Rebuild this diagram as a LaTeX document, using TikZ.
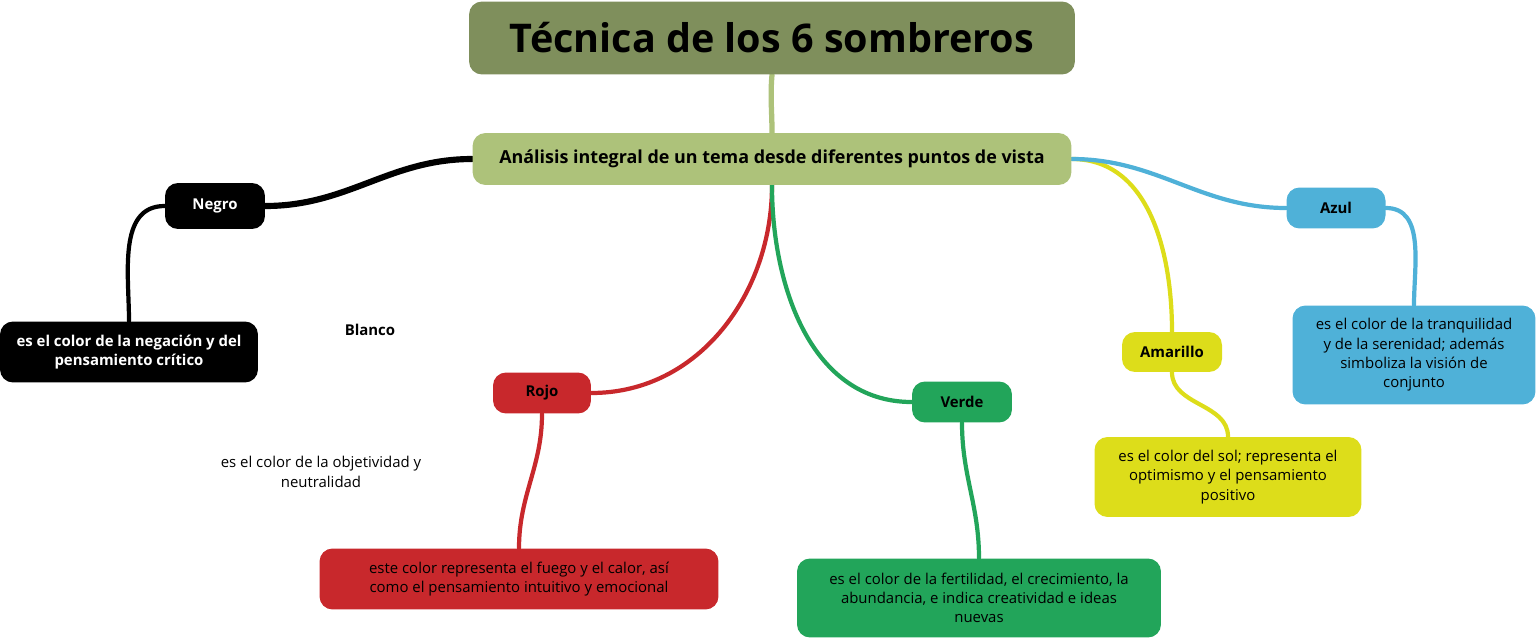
\documentclass[tikz,border=0pt]{standalone}
\usepackage{fontspec}
\setmainfont{Open Sans}
\usetikzlibrary{backgrounds}
\definecolor{olive}{HTML}{7F8F5C}
\definecolor{lolive}{HTML}{ADC27A}
\definecolor{cred}{HTML}{C8282C}
\definecolor{cgreen}{HTML}{22A55A}
\definecolor{cyellow}{HTML}{DDDD1A}
\definecolor{cblue}{HTML}{4FB1D8}
\tikzset{
 box/.style={rounded corners=0.26cm, inner sep=0pt, align=center, font=\fontsize{8.5}{11}\selectfont\bfseries},
 plain/.style={align=center, font=\fontsize{8.5}{11}\selectfont\bfseries},
 link/.style={line width=2.4pt, line cap=round},
}
\begin{document}
\begin{tikzpicture}[x=0.02cm,y=-0.02cm]
\useasboundingbox (0,0) rectangle (1536,639);
\node[box, fill=olive, minimum width=12.12cm, minimum height=1.46cm, font=\fontsize{22.5}{26}\selectfont\bfseries] (title) at (772,38) {Técnica de los 6 sombreros};
\node[box, fill=lolive, minimum width=11.98cm, minimum height=1.04cm, font=\fontsize{10.2}{12}\selectfont\bfseries] (main) at (772,159) {Análisis integral de un tema desde diferentes puntos de vista};
\node[box, fill=black, text=white, minimum width=2cm, minimum height=0.92cm] (negro) at (215,206) {Negro};
\node[box, fill=black, text=white, minimum width=5.16cm, minimum height=1.22cm] (negrod) at (129,352) {es el color de la negación y del\\pensamiento crítico};
\node[plain] (blanco) at (370,330) {Blanco};
\node[plain, font=\fontsize{8.5}{11}\selectfont] (blancod) at (321,472) {es el color de la objetividad y\\neutralidad};
\node[box, fill=cred, minimum width=1.96cm, minimum height=0.82cm] (rojo) at (542,393) {Rojo};
\node[box, fill=cred, minimum width=7.98cm, minimum height=1.22cm, font=\fontsize{8.5}{11}\selectfont] (rojod) at (519,579) {este color representa el fuego y el calor, así\\como el pensamiento intuitivo y emocional};
\node[box, fill=cgreen, minimum width=2cm, minimum height=0.82cm] (verde) at (962,402) {Verde};
\node[box, fill=cgreen, minimum width=7.28cm, minimum height=1.58cm, font=\fontsize{8.5}{11}\selectfont] (verded) at (979,598) {es el color de la fertilidad, el crecimiento, la\\abundancia, e indica creatividad e ideas\\nuevas};
\node[box, fill=cyellow, minimum width=2cm, minimum height=0.8cm] (amarillo) at (1172,352) {Amarillo};
\node[box, fill=cyellow, minimum width=5.34cm, minimum height=1.6cm, font=\fontsize{8.5}{11}\selectfont] (amarillod) at (1228,477) {es el color del sol; representa el\\optimismo y el pensamiento\\positivo};
\node[box, fill=cblue, minimum width=1.98cm, minimum height=0.82cm] (azul) at (1336,208) {Azul};
\node[box, fill=cblue, minimum width=4.86cm, minimum height=1.98cm, font=\fontsize{8.5}{11}\selectfont] (azuld) at (1414,355) {es el color de la tranquilidad\\y de la serenidad; además\\simboliza la visión de\\conjunto};
\begin{scope}[on background layer]
\draw[link, lolive, line width=3pt] (title.south) to[out=-95,in=90] (main.north);
\draw[link, black, line width=3.5pt] (main.west) to[out=180,in=0] (negro.east);
\draw[link, black] (negro.west) to[out=180,in=90] (negrod.north);
\draw[link, cred] (main.south) to[out=-90,in=0] (rojo.east);
\draw[link, cred] (rojo.south) to[out=-90,in=90] (rojod.north);
\draw[link, cgreen] (main.south) to[out=-90,in=180] (verde.west);
\draw[link, cgreen] (verde.south) to[out=-90,in=90] (verded.north);
\draw[link, cyellow] (main.east) to[out=0,in=90] (amarillo.north);
\draw[link, cyellow] (amarillo.south) to[out=-90,in=90] (amarillod.north);
\draw[link, cblue] (main.east) to[out=0,in=180] (azul.west);
\draw[link, cblue] (azul.east) to[out=0,in=90] (azuld.north);
\end{scope}
\end{tikzpicture}
\end{document}
